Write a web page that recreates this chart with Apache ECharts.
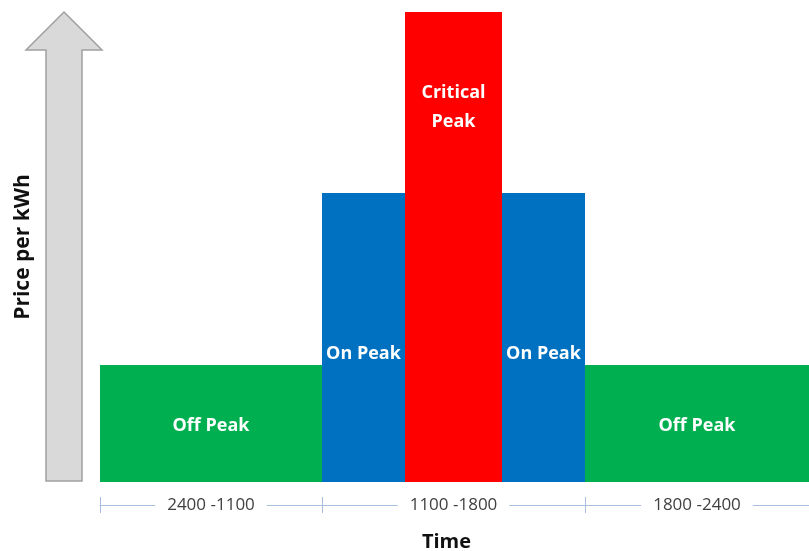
<!DOCTYPE html>
<html>
<head>
<meta charset="utf-8">
<script src="https://cdn.jsdelivr.net/npm/echarts@6/dist/echarts.min.js"></script>
<style>html,body{margin:0;padding:0;background:#fff}#c{width:809px;height:551px}</style>
</head>
<body>
<div id="c"></div>
<script>
// Periods (blocks along the time axis, arbitrary width units)
const periods = ['Off Peak', 'On Peak', 'Critical\nPeak', 'On Peak', 'Off Peak'];
const periodStart = [0, 222, 305, 402, 485];
const periodEnd = [222, 305, 402, 485, 709];
// Relative price per kWh
const prices = [1.17, 2.89, 4.70, 2.89, 1.17];
// Time ranges on the axis
const timeTickValues = [0, 222, 485];
const timeLabelValues = [111, 353.5, 597];
const timeLabels = ['2400 -1100', '1100 -1800', '1800 -2400'];

const colors = { 'Off Peak': '#00b050', 'On Peak': '#0070c0', 'Critical\nPeak': '#ff0000' };
const labelFrac = { 'Off Peak': 0.52, 'On Peak': 0.555, 'Critical\nPeak': 0.203 };

const data = periods.map((p, i) => [periodStart[i], periodEnd[i], prices[i], p]);

const chart = echarts.init(document.getElementById('c'), null, { renderer: 'canvas' });
const FONT = '"Open Sans", "Liberation Sans", sans-serif';

chart.setOption({
  animation: false,
  backgroundColor: '#fff',
  grid: { left: 100, right: 0, top: 12, bottom: 69, containLabel: false, outerBoundsMode: 'none' },
  graphic: [{
    type: 'polygon',
    z: -1,
    shape: { points: [[64, 12], [102, 50], [82, 50], [82, 481], [46, 481], [46, 50], [26, 50]] },
    style: { fill: '#d9d9d9', stroke: '#a0a0a0', lineWidth: 1.5 }
  }],
  xAxis: [{
    type: 'value', min: 0, max: 709, position: 'bottom', offset: 23,
    name: 'Time', nameLocation: 'middle', nameGap: 27,
    nameTextStyle: { fontFamily: FONT, fontWeight: 'bold', fontSize: 20, color: '#111', padding: [0, 16, 0, 0] },
    axisLine: { show: true, onZero: false, lineStyle: { color: '#a9bfe0', width: 1 } },
    axisTick: { show: true, inside: false, length: 8, customValues: timeTickValues, lineStyle: { color: '#a9bfe0' } },
    axisLabel: {
      show: true, customValues: timeLabelValues, margin: 0, verticalAlign: 'middle',
      formatter: v => timeLabels[timeLabelValues.indexOf(v)] || '',
      fontFamily: FONT, fontSize: 17, color: '#404040',
      backgroundColor: '#fff', padding: [2, 12]
    },
    splitLine: { show: false }
  }, {
    type: 'value', min: 0, max: 709, position: 'bottom', offset: 23,
    axisLine: { show: false, onZero: false },
    axisTick: { show: true, inside: true, length: 8, customValues: timeTickValues, lineStyle: { color: '#a9bfe0' } },
    axisLabel: { show: false },
    splitLine: { show: false }
  }],
  yAxis: {
    type: 'value', min: 0, max: 4.7,
    name: 'Price per kWh', nameLocation: 'middle', nameGap: 66,
    nameTextStyle: { fontFamily: FONT, fontWeight: 'bold', fontSize: 21, color: '#111' },
    axisLine: { show: false }, axisTick: { show: false }, axisLabel: { show: false }, splitLine: { show: false }
  },
  series: [{
    type: 'custom',
    xAxisIndex: 0,
    clip: false,
    data: data,
    encode: { x: [0, 1], y: 2 },
    renderItem: function (params, api) {
      const p = data[params.dataIndex][3];
      const tl = api.coord([api.value(0), api.value(2)]);
      const br = api.coord([api.value(1), 0]);
      const w = br[0] - tl[0], h = br[1] - tl[1];
      return {
        type: 'group',
        children: [{
          type: 'rect',
          shape: { x: tl[0], y: tl[1], width: w, height: h },
          style: { fill: colors[p] }
        }, {
          type: 'text',
          style: {
            text: p, x: tl[0] + w / 2, y: tl[1] + h * labelFrac[p],
            align: 'center', verticalAlign: 'middle',
            fill: '#fff', font: 'bold 18px ' + FONT, lineHeight: 29
          }
        }]
      };
    }
  }]
});
</script>
</body>
</html>
